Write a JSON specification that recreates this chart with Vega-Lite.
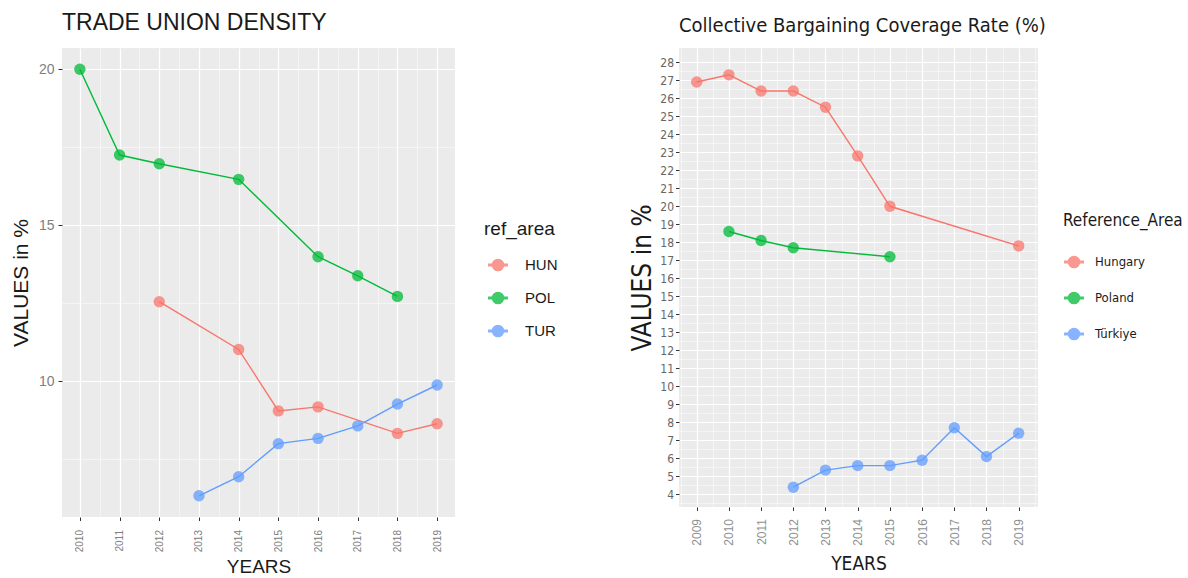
{
  "$schema": "https://vega.github.io/schema/vega-lite/v6.json",
  "background": "white",
  "padding": {"left": 10, "top": 12, "right": 5, "bottom": 0},
  "spacing": 71,
  "config": {
    "view": {"fill": "#EBEBEB", "stroke": null},
    "axis": {"domain": false, "grid": true, "gridColor": "#FFFFFF", "tickColor": "#333333", "tickSize": 3.5, "labelOverlap": false, "titleFontWeight": "normal", "titleColor": "#1a1a1a", "labelColor": "#808080"},
    "legend": {"titleFontWeight": "normal", "titleColor": "#1a1a1a", "labelColor": "#1a1a1a"}
  },
  "resolve": {"scale": {"color": "independent"}},
  "hconcat": [
    {
      "title": {"text": "TRADE UNION DENSITY", "anchor": "start", "frame": "group", "font": "Liberation Sans", "fontSize": 23, "fontWeight": "normal", "color": "#1a1a1a", "offset": 13},
      "width": 393,
      "height": 469,
      "data": {"values": [
        {"year": 2010, "value": 20.0, "ref_area": "POL"},
        {"year": 2011, "value": 17.25, "ref_area": "POL"},
        {"year": 2012, "value": 16.97, "ref_area": "POL"},
        {"year": 2014, "value": 16.47, "ref_area": "POL"},
        {"year": 2016, "value": 13.99, "ref_area": "POL"},
        {"year": 2017, "value": 13.38, "ref_area": "POL"},
        {"year": 2018, "value": 12.72, "ref_area": "POL"},
        {"year": 2012, "value": 12.55, "ref_area": "HUN"},
        {"year": 2014, "value": 11.02, "ref_area": "HUN"},
        {"year": 2015, "value": 9.05, "ref_area": "HUN"},
        {"year": 2016, "value": 9.18, "ref_area": "HUN"},
        {"year": 2018, "value": 8.33, "ref_area": "HUN"},
        {"year": 2019, "value": 8.64, "ref_area": "HUN"},
        {"year": 2013, "value": 6.33, "ref_area": "TUR"},
        {"year": 2014, "value": 6.94, "ref_area": "TUR"},
        {"year": 2015, "value": 8.0, "ref_area": "TUR"},
        {"year": 2016, "value": 8.17, "ref_area": "TUR"},
        {"year": 2017, "value": 8.57, "ref_area": "TUR"},
        {"year": 2018, "value": 9.27, "ref_area": "TUR"},
        {"year": 2019, "value": 9.88, "ref_area": "TUR"}
      ]},
      "encoding": {
        "x": {"field": "year", "type": "quantitative", "title": "YEARS",
          "scale": {"domain": [2009.55, 2019.45], "nice": false, "zero": false},
          "axis": {"values": [2010, 2010.5, 2011, 2011.5, 2012, 2012.5, 2013, 2013.5, 2014, 2014.5, 2015, 2015.5, 2016, 2016.5, 2017, 2017.5, 2018, 2018.5, 2019],
            "labelExpr": "datum.value % 1 === 0 ? '' + datum.value : ''",
            "labelAngle": -90, "labelAlign": "right", "labelBaseline": "middle", "labelFont": "Liberation Sans", "labelFontSize": 10, "labelPadding": 9,
            "tickOpacity": {"condition": {"test": "datum.value % 1 === 0", "value": 1}, "value": 0},
            "gridWidth": {"condition": {"test": "datum.value % 1 === 0", "value": 1.2}, "value": 0.5},
            "titleFont": "Liberation Sans", "titleFontSize": 19, "titlePadding": 6}},
        "y": {"field": "value", "type": "quantitative", "title": "VALUES in %",
          "scale": {"domain": [5.65, 20.68], "nice": false, "zero": false},
          "axis": {"values": [7.5, 10, 12.5, 15, 17.5, 20],
            "labelExpr": "datum.value % 5 === 0 ? '' + datum.value : ''",
            "labelFont": "Liberation Sans", "labelFontSize": 14, "labelPadding": 4,
            "tickSize": 4,
            "tickOpacity": {"condition": {"test": "datum.value % 5 === 0", "value": 1}, "value": 0},
            "gridWidth": {"condition": {"test": "datum.value % 5 === 0", "value": 1.2}, "value": 0.5},
            "titleFont": "Liberation Sans", "titleFontSize": 21, "titlePadding": 7}},
        "color": {"field": "ref_area", "type": "nominal",
          "scale": {"domain": ["HUN", "POL", "TUR"], "range": ["#F8766D", "#00BA38", "#619CFF"]},
          "legend": {"orient": "none", "legendX": 422, "legendY": 172, "title": "ref_area", "titleFont": "Liberation Sans", "titleFontSize": 19, "labelFont": "Liberation Sans", "labelFontSize": 15, "symbolType": "M-1,-0.07H1V0.07H-1ZM0.6,0A0.6,0.6,0,1,1,-0.6,0A0.6,0.6,0,1,1,0.6,0Z", "symbolSize": 340, "symbolOpacity": 0.75, "symbolOffset": 4, "rowPadding": 14, "titlePadding": 16, "labelOffset": 17}}
      },
      "layer": [
        {"mark": {"type": "line", "strokeWidth": 1.4}},
        {"mark": {"type": "point", "filled": true, "size": 130, "opacity": 0.75}}
      ]
    },
    {
      "title": {"text": "Collective Bargaining Coverage Rate (%)", "anchor": "start", "frame": "group", "font": "DejaVu Sans Condensed, Liberation Sans, sans-serif", "fontSize": 20, "fontWeight": "normal", "color": "#1a1a1a", "offset": 12},
      "width": 359,
      "height": 459,
      "data": {"values": [
        {"year": 2009, "value": 26.9, "Reference_Area": "Hungary"},
        {"year": 2010, "value": 27.3, "Reference_Area": "Hungary"},
        {"year": 2011, "value": 26.4, "Reference_Area": "Hungary"},
        {"year": 2012, "value": 26.4, "Reference_Area": "Hungary"},
        {"year": 2013, "value": 25.5, "Reference_Area": "Hungary"},
        {"year": 2014, "value": 22.8, "Reference_Area": "Hungary"},
        {"year": 2015, "value": 20.0, "Reference_Area": "Hungary"},
        {"year": 2019, "value": 17.8, "Reference_Area": "Hungary"},
        {"year": 2010, "value": 18.6, "Reference_Area": "Poland"},
        {"year": 2011, "value": 18.1, "Reference_Area": "Poland"},
        {"year": 2012, "value": 17.7, "Reference_Area": "Poland"},
        {"year": 2015, "value": 17.2, "Reference_Area": "Poland"},
        {"year": 2012, "value": 4.4, "Reference_Area": "Türkiye"},
        {"year": 2013, "value": 5.35, "Reference_Area": "Türkiye"},
        {"year": 2014, "value": 5.6, "Reference_Area": "Türkiye"},
        {"year": 2015, "value": 5.6, "Reference_Area": "Türkiye"},
        {"year": 2016, "value": 5.9, "Reference_Area": "Türkiye"},
        {"year": 2017, "value": 7.7, "Reference_Area": "Türkiye"},
        {"year": 2018, "value": 6.1, "Reference_Area": "Türkiye"},
        {"year": 2019, "value": 7.4, "Reference_Area": "Türkiye"}
      ]},
      "encoding": {
        "x": {"field": "year", "type": "quantitative", "title": "YEARS",
          "scale": {"domain": [2008.45, 2019.6], "nice": false, "zero": false},
          "axis": {"values": [2008.5, 2009, 2009.5, 2010, 2010.5, 2011, 2011.5, 2012, 2012.5, 2013, 2013.5, 2014, 2014.5, 2015, 2015.5, 2016, 2016.5, 2017, 2017.5, 2018, 2018.5, 2019, 2019.5],
            "labelExpr": "datum.value % 1 === 0 ? '' + datum.value : ''",
            "labelAngle": -90, "labelAlign": "right", "labelBaseline": "middle", "labelFont": "Liberation Sans", "labelFontSize": 12, "labelColor": "#909090", "labelPadding": 8,
            "tickOpacity": {"condition": {"test": "datum.value % 1 === 0", "value": 1}, "value": 0},
            "gridWidth": {"condition": {"test": "datum.value % 1 === 0", "value": 1.2}, "value": 0.5},
            "titleFont": "DejaVu Sans Condensed, Liberation Sans, sans-serif", "titleFontSize": 19, "titlePadding": 9}},
        "y": {"field": "value", "type": "quantitative", "title": "VALUES in %",
          "scale": {"domain": [3.3, 28.79], "nice": false, "zero": false},
          "axis": {"values": [3.5, 4, 4.5, 5, 5.5, 6, 6.5, 7, 7.5, 8, 8.5, 9, 9.5, 10, 10.5, 11, 11.5, 12, 12.5, 13, 13.5, 14, 14.5, 15, 15.5, 16, 16.5, 17, 17.5, 18, 18.5, 19, 19.5, 20, 20.5, 21, 21.5, 22, 22.5, 23, 23.5, 24, 24.5, 25, 25.5, 26, 26.5, 27, 27.5, 28],
            "labelExpr": "datum.value % 1 === 0 ? '' + datum.value : ''",
            "labelFont": "DejaVu Sans Condensed, Liberation Sans, sans-serif", "labelFontSize": 12, "labelColor": "#666666", "labelPadding": 2,
            "tickOpacity": {"condition": {"test": "datum.value % 1 === 0", "value": 1}, "value": 0},
            "gridWidth": {"condition": {"test": "datum.value % 1 === 0", "value": 1.1}, "value": 0.5},
            "titleFont": "DejaVu Sans Condensed, Liberation Sans, sans-serif", "titleFontSize": 26, "titlePadding": 4}},
        "color": {"field": "Reference_Area", "type": "nominal",
          "scale": {"domain": ["Hungary", "Poland", "Türkiye"], "range": ["#F8766D", "#00BA38", "#619CFF"]},
          "legend": {"orient": "none", "legendX": 384, "legendY": 165, "title": "Reference_Area", "titleFont": "DejaVu Sans Condensed, Liberation Sans, sans-serif", "titleFontSize": 17, "labelFont": "DejaVu Sans Condensed, Liberation Sans, sans-serif", "labelFontSize": 13, "symbolType": "M-1,-0.07H1V0.07H-1ZM0.6,0A0.6,0.6,0,1,1,-0.6,0A0.6,0.6,0,1,1,0.6,0Z", "symbolSize": 340, "symbolOpacity": 0.75, "symbolOffset": 1, "rowPadding": 17, "titlePadding": 22, "labelOffset": 11}}
      },
      "layer": [
        {"mark": {"type": "line", "strokeWidth": 1.4}},
        {"mark": {"type": "point", "filled": true, "size": 130, "opacity": 0.75}}
      ]
    }
  ]
}
